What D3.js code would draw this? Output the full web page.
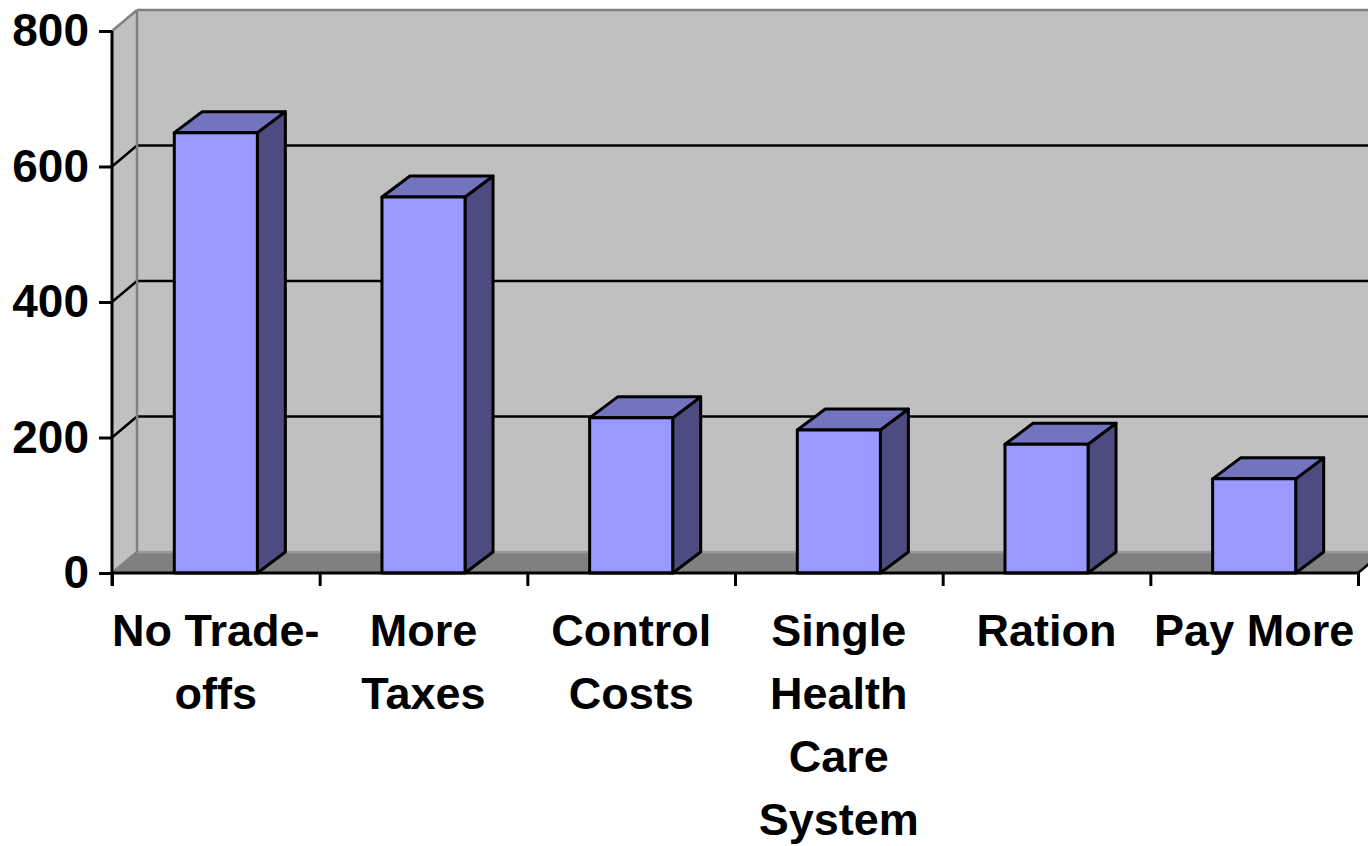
<!DOCTYPE html>
<html>
<head>
<meta charset="utf-8">
<script src="https://cdn.jsdelivr.net/npm/d3@7"></script>
<style>
  html, body { margin: 0; padding: 0; background: #fff; }
  svg { display: block; }
  text { font-family: Arial, "Liberation Sans", sans-serif; font-weight: bold; }
</style>
</head>
<body>
<svg id="chart" width="1368" height="846"></svg>
<script>
// ---- data ----
const categories = [
  ["No Trade-", "offs"],
  ["More", "Taxes"],
  ["Control", "Costs"],
  ["Single", "Health", "Care", "System"],
  ["Ration"],
  ["Pay More"]
];
const values = [650, 555, 229, 211, 190, 139];
const yTicks = [0, 200, 400, 600, 800];

// ---- layout ----
const W = 1368, H = 846;
const x0 = 112, x1 = 1358;         // front plane extent
const yZero = 573, yTop = 31;
const wallDX = 25, wallDY = -21;   // depth of walls/floor
const barDX = 28, barDY = -21;     // depth of bars
const colors = {
  wall: "#c0c0c0", wallEdge: "#808080", floor: "#808080",
  front: "#9999ff", top: "#7373bf", side: "#4c4c80"
};

const svg = d3.select("#chart");
const y = d3.scaleLinear().domain([0, 800]).range([yZero, yTop]);
const xi = d3.scaleLinear().domain([0, categories.length]).range([x0, x1]);
const xb = d3.scaleBand().domain(d3.range(categories.length)).range([x0, x1]).paddingInner(0.6).paddingOuter(0.3);

const line = d3.line();

// back wall
svg.append("rect")
  .attr("x", x0 + wallDX).attr("y", y(800) + wallDY)
  .attr("width", W - (x0 + wallDX) + 40).attr("height", y(0) - y(800))
  .attr("fill", colors.wall);
// left side wall
svg.append("path")
  .attr("d", line([[x0, y(0)], [x0, y(800)], [x0 + wallDX, y(800) + wallDY], [x0 + wallDX, y(0) + wallDY]]) + "Z")
  .attr("fill", colors.wall);
// floor
svg.append("path")
  .attr("d", line([[x0, y(0)], [x0 + wallDX, y(0) + wallDY], [x1 + wallDX, y(0) + wallDY], [x1, y(0)]]) + "Z")
  .attr("fill", colors.floor);

// gridlines (back wall + left wall)
const grid = svg.append("g");
yTicks.forEach(v => {
  const edge = (v === 0 || v === 800);
  const col = edge ? colors.wallEdge : "#000";
  grid.append("line")
    .attr("x1", x0 + wallDX).attr("x2", W + 10)
    .attr("y1", y(v) + wallDY).attr("y2", y(v) + wallDY)
    .attr("stroke", v === 0 ? "#9a9a9a" : col).attr("stroke-width", 2.5);
  grid.append("line")
    .attr("x1", x0).attr("y1", y(v))
    .attr("x2", x0 + wallDX).attr("y2", y(v) + wallDY)
    .attr("stroke", col).attr("stroke-width", 2.5);
});
// back wall left edge
grid.append("line")
  .attr("x1", x0 + wallDX).attr("x2", x0 + wallDX)
  .attr("y1", y(800) + wallDY).attr("y2", y(0) + wallDY)
  .attr("stroke", colors.wallEdge).attr("stroke-width", 2.5);
// floor right edge diagonal
grid.append("line")
  .attr("x1", x1).attr("y1", y(0))
  .attr("x2", x1 + wallDX).attr("y2", y(0) + wallDY)
  .attr("stroke", "#000").attr("stroke-width", 2.5);

// bars
const bars = svg.append("g").selectAll("g").data(values).join("g");
bars.each(function(v, i) {
  const g = d3.select(this);
  const L = xb(i), R = xb(i) + xb.bandwidth();
  const T = y(v), B = y(0);
  const st = { stroke: "#000", "stroke-width": 3, "stroke-linejoin": "round" };
  const side = g.append("path")
    .attr("d", line([[R, B], [R, T], [R + barDX, T + barDY], [R + barDX, B + barDY]]) + "Z")
    .attr("fill", colors.side);
  const top = g.append("path")
    .attr("d", line([[L, T], [L + barDX, T + barDY], [R + barDX, T + barDY], [R, T]]) + "Z")
    .attr("fill", colors.top);
  const front = g.append("rect")
    .attr("x", L).attr("y", T).attr("width", R - L).attr("height", B - T)
    .attr("fill", colors.front);
  [side, top, front].forEach(s => Object.entries(st).forEach(([k, val]) => s.attr(k, val)));
});

// y axis
const yAxis = svg.append("g")
  .attr("transform", `translate(${x0},0)`)
  .call(d3.axisLeft(y).tickValues(yTicks).tickSize(13).tickPadding(10).tickFormat(d3.format("d")));
yAxis.select(".domain").attr("stroke", "#000").attr("stroke-width", 3)
  .attr("d", `M0,${yTop}V${yZero + 13}`);
yAxis.selectAll(".tick line").attr("stroke", "#000").attr("stroke-width", 3);
yAxis.selectAll(".tick text").attr("font-size", 46).attr("font-weight", "bold")
  .attr("font-family", "Arial, 'Liberation Sans', sans-serif").attr("fill", "#000");

// x axis (ticks at category boundaries)
const xAxis = svg.append("g")
  .attr("transform", `translate(0,${yZero})`)
  .call(d3.axisBottom(xi).tickValues(d3.range(categories.length + 1)).tickSize(13).tickFormat(""));
xAxis.select(".domain").attr("stroke", "#000").attr("stroke-width", 3).attr("d", `M${x0},0H${x1}`);
xAxis.selectAll(".tick line").attr("stroke", "#000").attr("stroke-width", 3);

// category labels
const labels = svg.append("g").selectAll("text").data(categories).join("text")
  .attr("x", (d, i) => xb(i) + xb.bandwidth() / 2)
  .attr("y", 646)
  .attr("text-anchor", "middle")
  .attr("font-size", 45)
  .attr("fill", "#000");
labels.each(function(lines) {
  const t = d3.select(this);
  lines.forEach((s, k) => {
    t.append("tspan").attr("x", t.attr("x")).attr("dy", k === 0 ? 0 : 63).text(s);
  });
});
</script>
</body>
</html>
